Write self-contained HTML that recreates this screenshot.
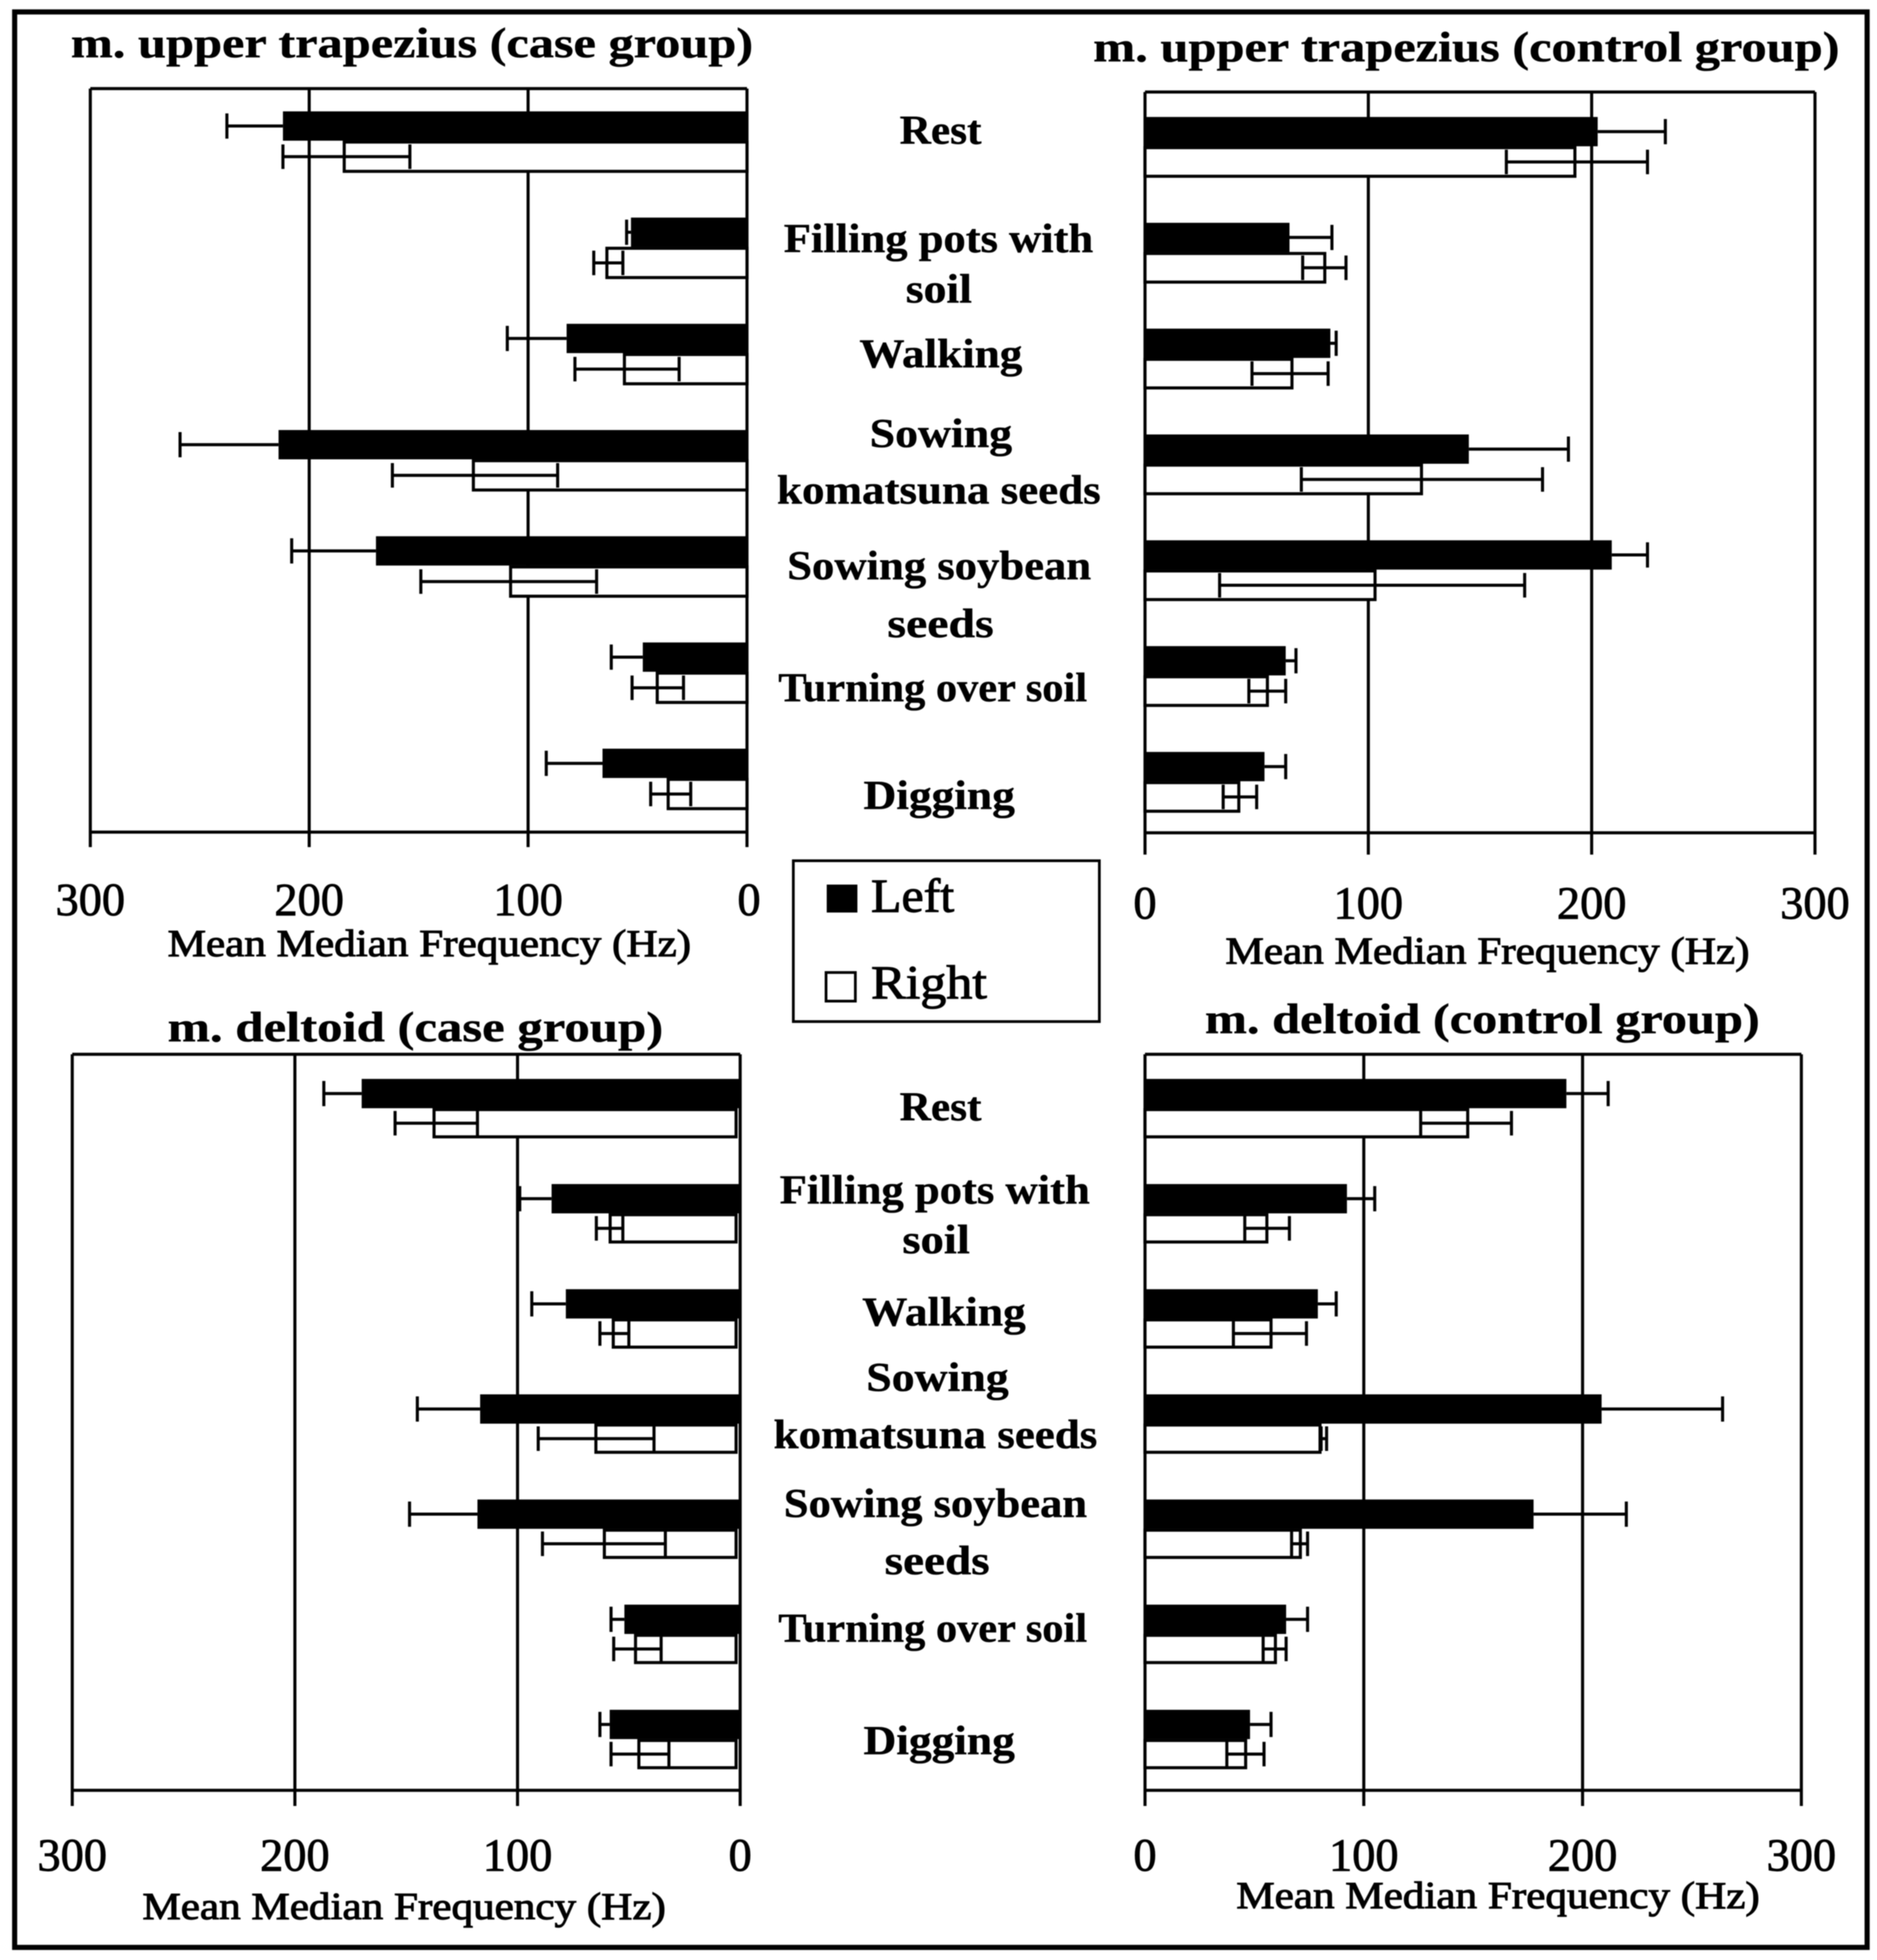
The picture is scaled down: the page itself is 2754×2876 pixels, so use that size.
<!DOCTYPE html>
<html>
<head>
<meta charset="utf-8">
<title>Mean Median Frequency chart</title>
<style>
html,body{margin:0;padding:0;background:#fff;}
svg{display:block;filter:blur(0.9px);}
text{font-family:"Liberation Serif",serif;fill:#000;}
.cat{font-weight:bold;font-size:60px;stroke:#000;stroke-width:0.6px;}
.ttl{font-weight:bold;font-size:62px;stroke:#000;stroke-width:0.6px;}
.axt{font-size:56px;stroke:#000;stroke-width:1.4px;}
.tick{font-size:68px;stroke:#000;stroke-width:1.2px;text-anchor:middle;}
.leg{font-size:70px;stroke:#000;stroke-width:1.4px;}
</style>
</head>
<body>
<svg id="chart" xmlns="http://www.w3.org/2000/svg" width="2754" height="2876" viewBox="0 0 2754 2876">
<rect x="0" y="0" width="2754" height="2876" fill="#fff"/>
<rect x="21.5" y="17.5" width="2718" height="2840" fill="none" stroke="#000" stroke-width="7.5"/>
<g id="panels"></g>

<text class="ttl" x="104" y="84" textLength="1001" lengthAdjust="spacingAndGlyphs">m. upper trapezius (case group)</text>
<text class="ttl" x="1604" y="90" textLength="1095" lengthAdjust="spacingAndGlyphs">m. upper trapezius (control  group)</text>
<text class="ttl" x="246" y="1528" textLength="727" lengthAdjust="spacingAndGlyphs">m. deltoid  (case group)</text>
<text class="ttl" x="1768" y="1516" textLength="814" lengthAdjust="spacingAndGlyphs">m. deltoid  (control  group)</text>

<text class="axt" x="246" y="1403" textLength="768" lengthAdjust="spacingAndGlyphs">Mean Median Frequency (Hz)</text>
<text class="axt" x="1798" y="1414" textLength="769" lengthAdjust="spacingAndGlyphs">Mean Median Frequency (Hz)</text>
<text class="axt" x="209" y="2816" textLength="768" lengthAdjust="spacingAndGlyphs">Mean Median Frequency (Hz)</text>
<text class="axt" x="1814" y="2800" textLength="768" lengthAdjust="spacingAndGlyphs">Mean Median Frequency (Hz)</text>

<g>
<text class="cat" x="1320" y="211" textLength="120" lengthAdjust="spacingAndGlyphs">Rest</text>
<text class="cat" x="1150" y="370" textLength="454" lengthAdjust="spacingAndGlyphs">Filling pots with</text>
<text class="cat" x="1329" y="444" textLength="97" lengthAdjust="spacingAndGlyphs">soil</text>
<text class="cat" x="1261" y="539" textLength="239" lengthAdjust="spacingAndGlyphs">Walking</text>
<text class="cat" x="1276" y="656" textLength="209" lengthAdjust="spacingAndGlyphs">Sowing</text>
<text class="cat" x="1140" y="739" textLength="475" lengthAdjust="spacingAndGlyphs">komatsuna seeds</text>
<text class="cat" x="1155" y="850" textLength="446" lengthAdjust="spacingAndGlyphs">Sowing soybean</text>
<text class="cat" x="1302" y="935" textLength="156" lengthAdjust="spacingAndGlyphs">seeds</text>
<text class="cat" x="1142" y="1029" textLength="453" lengthAdjust="spacingAndGlyphs">Turning over soil</text>
<text class="cat" x="1267" y="1187" textLength="222" lengthAdjust="spacingAndGlyphs">Digging</text>
</g>
<g>
<text class="cat" x="1320" y="1644" textLength="120" lengthAdjust="spacingAndGlyphs">Rest</text>
<text class="cat" x="1144" y="1766" textLength="455" lengthAdjust="spacingAndGlyphs">Filling pots with</text>
<text class="cat" x="1324" y="1839" textLength="99" lengthAdjust="spacingAndGlyphs">soil</text>
<text class="cat" x="1265" y="1945" textLength="240" lengthAdjust="spacingAndGlyphs">Walking</text>
<text class="cat" x="1271" y="2041" textLength="209" lengthAdjust="spacingAndGlyphs">Sowing</text>
<text class="cat" x="1135" y="2125" textLength="475" lengthAdjust="spacingAndGlyphs">komatsuna seeds</text>
<text class="cat" x="1150" y="2226" textLength="445" lengthAdjust="spacingAndGlyphs">Sowing soybean</text>
<text class="cat" x="1298" y="2310" textLength="154" lengthAdjust="spacingAndGlyphs">seeds</text>
<text class="cat" x="1142" y="2409" textLength="453" lengthAdjust="spacingAndGlyphs">Turning over soil</text>
<text class="cat" x="1267" y="2574" textLength="222" lengthAdjust="spacingAndGlyphs">Digging</text>
</g>

<g>
<rect x="1164" y="1263" width="449" height="236" fill="#fff" stroke="#000" stroke-width="4"/>
<rect x="1213" y="1298" width="45" height="41" fill="#000"/>
<text class="leg" x="1278" y="1338" textLength="122" lengthAdjust="spacingAndGlyphs">Left</text>
<rect x="1212" y="1427" width="43" height="42" fill="#fff" stroke="#000" stroke-width="4"/>
<text class="leg" x="1278" y="1465" textLength="170" lengthAdjust="spacingAndGlyphs">Right</text>
</g>
</svg>

<script>
const categories = ["Rest","Filling pots with soil","Walking","Sowing komatsuna seeds","Sowing soybean seeds","Turning over soil","Digging"];
const tickValues = [0,100,200,300];
const tickLabels = ["0","100","200","300"];

const utCaseLeft      = [212,53,82.4,214,169.5,47.6,66];
const utCaseLeftHigh  = [237.6,55,109.5,259,208,62,91.7];
const utCaseRight     = [184,64,56,125,108,41,36];
const utCaseRightLow  = [154,56.7,31,86.5,68.7,29,25.7];
const utCaseRightHigh = [212,70,78.6,162,149,52.5,44];

const utCtrlLeft      = [202.7,64.7,83,145,209,63,53.5];
const utCtrlLeftHigh  = [233,83.7,85.6,189.6,225,67.6,63];
const utCtrlRight     = [192.5,80.5,65.8,123.8,103,54.8,42];
const utCtrlRightLow  = [161.8,70.6,47.9,70,33.4,46.5,35];
const utCtrlRightHigh = [225,90,82,178,170,63,50];

const dtCaseLeft      = [170,84.7,78.3,116.8,118,52,58.6];
const dtCaseLeftHigh  = [187,99,93.6,145,148.5,58,63];
const dtCaseRight     = [137.5,58.4,57,64.8,61,47,45.5];
const dtCaseRightLow  = [118,52.7,50,38.7,33.6,35.5,32];
const dtCaseRightHigh = [155,64.6,63,90.7,88.8,56.8,58];

const dtCtrlLeft      = [192.6,92.3,79,208.7,177.6,64.5,48];
const dtCtrlLeftHigh  = [211.7,105,87.4,264,220,74.3,57.6];
const dtCtrlRight     = [147.5,55.7,57.6,80,71,59.6,46];
const dtCtrlRightLow  = [126,45.6,40.4,80.5,67,54,37.4];
const dtCtrlRightHigh = [167.5,66,73.8,83,74.3,64.5,54.4];

const SVG_NS = "http://www.w3.org/2000/svg";
const root = document.getElementById("panels");

function mk(tag, parent, attrs) {
  const el = document.createElementNS(SVG_NS, tag);
  for (const k in attrs) el.setAttribute(k, attrs[k]);
  parent.appendChild(el);
  return el;
}

function drawLine(parent, name, x1, y1, x2, y2, w) {
  const el = mk("line", parent, {x1:x1, y1:y1, x2:x2, y2:y2, stroke:"#000", "stroke-width":w});
  
  
  return el;
}

function drawPanel(cfg, left, leftHigh, right, rightLow, rightHigh) {
  const g = mk("g", root, {});
  
  
  const sx = v => cfg.x0 + (cfg.x300 - cfg.x0) * v / 300;
  const band = (cfg.bottom - cfg.top) / categories.length;
  const cy = i => cfg.top + band * (i + 0.5) + cfg.offset;
  const lw = 4.5, capL = 37, capR = 36, hL = 43, hR = cfg.hR;

  // frame top
  drawLine(g, "plot-top-border", sx(0), cfg.top, sx(300), cfg.top, lw);
  // bottom axis
  drawLine(g, "x-axis-line", sx(0), cfg.bottom, sx(300), cfg.bottom, lw);
  // vertical gridlines + ticks + tick labels
  tickValues.forEach((v, i) => {
    drawLine(g, "gridline-" + v, sx(v), cfg.top, sx(v), cfg.tickEnd, lw);
    const t = mk("text", g, {class:"tick", x:sx(v) + (v === 0 ? (cfg.zeroShift || 0) : 0), y:cfg.labelY});
    t.textContent = tickLabels[i];
    
    
  });

  categories.forEach((c, i) => {
    const y = cy(i);
    const slug = c.toLowerCase().replace(/\s+/g, "-");
    const dir = cfg.x300 > cfg.x0 ? 1 : -1;
    const base = sx(0);

    // left series: whisker then solid bar
    const ly = y - hL / 2;
    drawLine(g, "error-left-" + slug, sx(left[i]), ly, sx(leftHigh[i]), ly, lw);
    drawLine(g, "error-cap-left-" + slug, sx(leftHigh[i]), ly - capL / 2, sx(leftHigh[i]), ly + capL / 2, lw);
    const lb = mk("rect", g, {x:Math.min(base, sx(left[i])), y:y - hL, width:Math.abs(sx(left[i]) - base), height:hL, fill:"#000"});
    
    

    // right series: white outlined bar with whiskers
    const rBase = base + dir * (cfg.rightInset || 0);
    const rTop = y + 2, rH = hR - 4;
    const rb = mk("rect", g, {x:Math.min(rBase, sx(right[i])), y:rTop, width:Math.abs(sx(right[i]) - rBase), height:rH, fill:"#fff", stroke:"#000", "stroke-width":lw});
    
    
    const ry = y + hR / 2;
    drawLine(g, "error-right-" + slug, sx(rightLow[i]), ry, sx(rightHigh[i]), ry, lw);
    drawLine(g, "error-cap-right-low-" + slug, sx(rightLow[i]), ry - capR / 2, sx(rightLow[i]), ry + capR / 2, lw);
    drawLine(g, "error-cap-right-high-" + slug, sx(rightHigh[i]), ry - capR / 2, sx(rightHigh[i]), ry + capR / 2, lw);
  });
}

drawPanel({name:"panel-upper-trapezius-case", x0:1096, x300:132.5, top:130, bottom:1221, tickEnd:1243, labelY:1343, offset:-1.5, hR:47, zeroShift:3},
  utCaseLeft, utCaseLeftHigh, utCaseRight, utCaseRightLow, utCaseRightHigh);
drawPanel({name:"panel-upper-trapezius-control", x0:1680, x300:2663, top:135, bottom:1222, tickEnd:1254, labelY:1348, offset:2, hR:46, zeroShift:0},
  utCtrlLeft, utCtrlLeftHigh, utCtrlRight, utCtrlRightLow, utCtrlRightHigh);
drawPanel({name:"panel-deltoid-case", x0:1086, x300:106, top:1547, bottom:2627, tickEnd:2650, labelY:2745, offset:2, rightInset:6, hR:44, zeroShift:0},
  dtCaseLeft, dtCaseLeftHigh, dtCaseRight, dtCaseRightLow, dtCaseRightHigh);
drawPanel({name:"panel-deltoid-control", x0:1680, x300:2643, top:1547, bottom:2627, tickEnd:2650, labelY:2745, offset:2, hR:44, zeroShift:0},
  dtCtrlLeft, dtCtrlLeftHigh, dtCtrlRight, dtCtrlRightLow, dtCtrlRightHigh);
</script>
</body>
</html>
